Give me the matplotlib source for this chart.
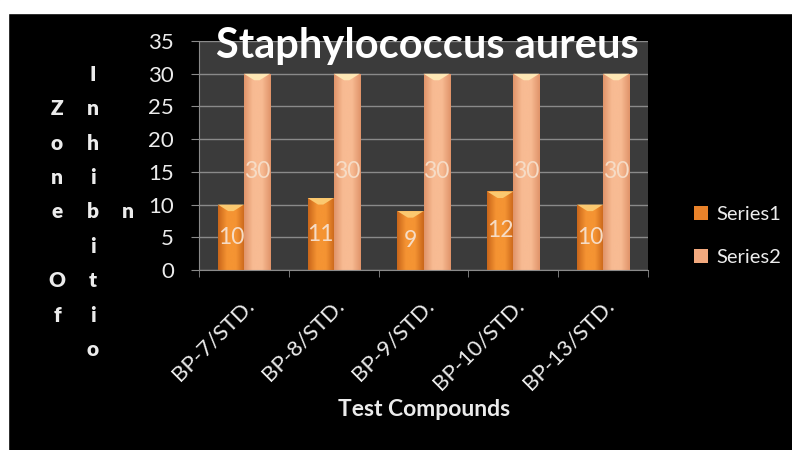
import numpy as np
import matplotlib.pyplot as plt
from matplotlib.patches import Patch, Polygon

# chart data
compounds = ['BP-7/STD.', 'BP-8/STD.', 'BP-9/STD.', 'BP-10/STD.', 'BP-13/STD.']
series1 = [10, 11, 9, 12, 10]
series2 = [30, 30, 30, 30, 30]
series_names = ['Series1', 'Series2']
yticks = [0, 5, 10, 15, 20, 25, 30, 35]

plt.rcParams['font.family'] = ['Lato', 'DejaVu Sans']

fig = plt.figure(figsize=(7.92, 4.5), dpi=100)
fig.patch.set_facecolor('black')

# white strips at the top and left edge of the screenshot
fig.patches.append(plt.Rectangle((0, 1 - 13 / 450), 1, 13 / 450, transform=fig.transFigure,
                                 color='white', zorder=-1))
fig.patches.append(plt.Rectangle((0, 0), 8 / 792, 1, transform=fig.transFigure,
                                 color='white', zorder=-1))

ax = fig.add_axes([199 / 792, 1 - 270 / 450, 449 / 792, 229 / 450])
ax.set_facecolor('#3b3b3b')

x = np.arange(len(compounds))
w = 0.29


def shade(bars, edge, mid, cap):
    # horizontal gradient clipped to each bar, plus a pale top cap
    cmap = plt.matplotlib.colors.LinearSegmentedColormap.from_list('g', [edge, mid, mid, edge])
    grad = np.linspace(0, 1, 64).reshape(1, -1)
    for b in bars:
        x0, y0 = b.get_x(), b.get_y()
        bw, bh = b.get_width(), b.get_height()
        im = ax.imshow(grad, cmap=cmap, aspect='auto', extent=[x0, x0 + bw, y0, y0 + bh],
                       zorder=2, interpolation='bicubic')
        im.set_clip_path(b)
        ch = 1.0
        tri = Polygon([[x0, y0 + bh], [x0 + bw, y0 + bh], [x0 + bw * 0.6, y0 + bh - ch],
                       [x0 + bw * 0.4, y0 + bh - ch]], closed=True, color=cap, zorder=3, lw=0)
        ax.add_patch(tri)


b1 = ax.bar(x - w / 2, series1, w, color='#e9822a', zorder=2, lw=0)
b2 = ax.bar(x + w / 2, series2, w, color='#f2a97e', zorder=2, lw=0)
shade(b1, '#c9661a', '#f59433', '#fbc970')
shade(b2, '#e0946a', '#f8bb93', '#fde6b4')

for rects, vals in ((b1, series1), (b2, series2)):
    for r, v in zip(rects, vals):
        ax.text(r.get_x() + r.get_width() / 2, v / 2, str(v), ha='center', va='center',
                color='#f6dcc6', fontsize=16.5, zorder=5)

ax.set_xlim(-0.5, len(compounds) - 0.5)
ax.set_ylim(0, 35)
ax.set_yticks(yticks)
ax.yaxis.grid(True, color='#8a8a8a', lw=1)
ax.set_axisbelow(True)

ax.set_xticks(x)
ax.set_xticklabels(compounds, rotation=45, ha='right', rotation_mode='anchor')
ax.set_xticks(np.arange(len(compounds) + 1) - 0.5, minor=True)
ax.tick_params(axis='x', which='major', length=0, pad=18, labelsize=16, labelcolor='#ececec')
ax.tick_params(axis='x', which='minor', length=5, color='#8a8a8a', direction='out')
ax.tick_params(axis='y', length=6, color='#8a8a8a', labelsize=16, labelcolor='#ececec', pad=12)

for s in ['top', 'right']:
    ax.spines[s].set_visible(False)
for s in ['left', 'bottom']:
    ax.spines[s].set_color('#8a8a8a')

fig.text(427 / 792, 1 - 46 / 450, 'Staphylococcus aureus', ha='center', va='center',
         color='white', fontsize=30, fontweight='bold')

fig.text(424 / 792, 1 - 410 / 450, 'Test Compounds', ha='center', va='center',
         color='#ececec', fontsize=16.5, fontweight='bold')

# stacked y-axis label as it appears in the picture
ylabel_cols = ['Z\no\nn\ne\n \nO\nf', 'I\nn\nh\ni\nb\ni\nt\ni\no', 'n']
ylabel_x = [57, 93, 128]
for txt, xx in zip(ylabel_cols, ylabel_x):
    fig.text(xx / 792, 1 - 212 / 450, txt, ha='center', va='center', color='#ececec',
             fontsize=15, fontweight='heavy', linespacing=1.96)

handles = [Patch(facecolor='#e9822a'), Patch(facecolor='#f2a97e')]
leg = fig.legend(handles, series_names, loc='center left', bbox_to_anchor=(676 / 792, 1 - 236 / 450),
                 frameon=False, fontsize=14.5, labelcolor='#ececec', handlelength=0.7,
                 handleheight=0.7, handletextpad=0.4, labelspacing=1.3)

fig.savefig('out.png', dpi=100, facecolor=fig.get_facecolor())
